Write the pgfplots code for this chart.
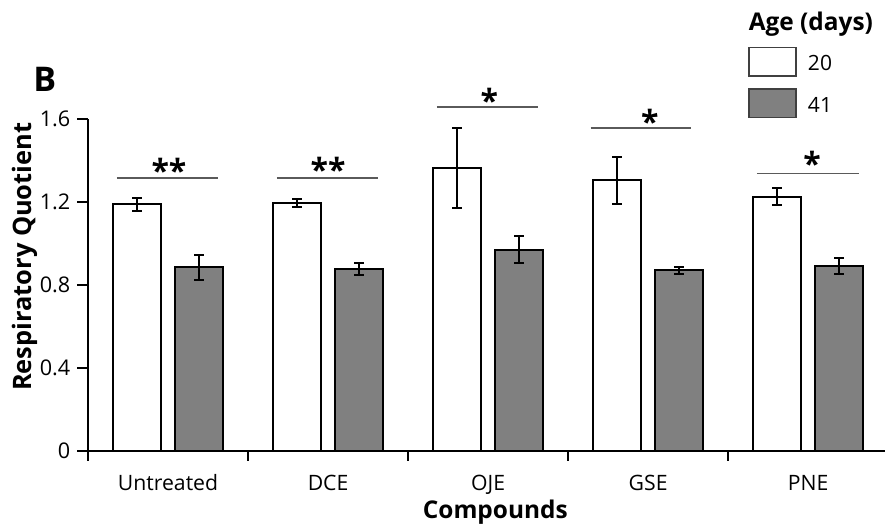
\documentclass[border=0pt]{standalone}
\usepackage{pgfplots}
\pgfplotsset{compat=1.18}
\usepackage{pgfplotstable}
\usepackage{fontspec}
\setmainfont{Open Sans}
\definecolor{barg}{RGB}{128,128,128}
\definecolor{brk}{RGB}{90,90,90}

\pgfplotstableread{
x y e
0 1.189 0.030
1 1.195 0.018
2 1.366 0.193
3 1.305 0.115
4 1.227 0.043
}\youngtab
\pgfplotstableread{
x y e
0 0.885 0.060
1 0.877 0.027
2 0.971 0.065
3 0.871 0.017
4 0.890 0.038
}\oldtab

\begin{document}
\begin{tikzpicture}
\useasboundingbox (-44pt,-36.65pt) rectangle (398.5pt,225.35pt);
\begin{axis}[
  at={(0pt,0pt)}, anchor=south west,
  scale only axis, width=398.5pt, height=165.7pt,
  xmin=-0.5, xmax=4.48, ymin=0, ymax=1.6,
  clip=false,
  axis x line=bottom, axis y line=left,
  axis line style={-, line width=1pt, black},
  ytick={0,0.4,0.8,1.2,1.6}, yticklabels={0,0.4,0.8,1.2,1.6},
  xtick={0,1,2,3,4}, xticklabels={Untreated,DCE,OJE,GSE,PNE},
  minor xtick={-0.5,0.5,1.5,2.5,3.5},
  major x tick style={draw=none},
  tick align=outside, major tick length=5.5pt, minor tick length=5pt,
  tick style={line width=1pt, black},
  yticklabel style={font=\fontsize{10.8}{12}\selectfont, anchor=east, inner sep=0pt, xshift=-3.2pt},
  xticklabel style={font=\fontsize{10.6}{12}\selectfont, anchor=base, inner sep=0pt, yshift=-14.5pt},
  ylabel={Respiratory Quotient},
  ylabel style={at={(axis description cs:-0.0706,0.585)}, anchor=base, inner sep=0pt, font=\bfseries\fontsize{12.7}{15}\selectfont},
  xlabel={Compounds},
  xlabel style={at={(axis description cs:0.511,-0.2031)}, anchor=base, inner sep=0pt, font=\bfseries\fontsize{12.2}{14}\selectfont},
  legend style={at={(axis description cs:0.8286,1.219)}, anchor=north west,
    draw=none, fill=none, inner sep=0pt, outer sep=0pt,
    row sep=5.7pt, column sep=5.7pt,
    nodes={inner sep=0pt, anchor=base},
    font=\fontsize{10.5}{12}\selectfont},
  legend cell align=left,
]
\addplot[ybar, bar width=24pt, bar shift=0pt, fill=white, draw=black, line width=1pt, forget plot,
  error bars/.cd, y dir=both, y explicit,
  error bar style={line width=1pt, black},
  error mark options={rotate=90, mark size=2.4pt, line width=1pt, black}]
  table[x expr=\thisrow{x}-0.1937, y=y, y error=e] {\youngtab};
\addplot[ybar, bar width=24pt, bar shift=0pt, fill=barg, draw=black, line width=1pt, forget plot,
  error bars/.cd, y dir=both, y explicit,
  error bar style={line width=1pt, black},
  error mark options={rotate=90, mark size=2.4pt, line width=1pt, black}]
  table[x expr=\thisrow{x}+0.1937, y=y, y error=e] {\oldtab};

\addlegendimage{legend image code/.code={\draw[fill=white, draw=black!75, line width=0.7pt] (0pt,-2.55pt) rectangle (23.4pt,11.75pt);}}
\addlegendentry{20}
\addlegendimage{legend image code/.code={\draw[fill=barg, draw=black!75, line width=0.7pt] (0pt,-2.55pt) rectangle (23.4pt,11.75pt);}}
\addlegendentry{41}

% significance brackets
\draw[brk, line width=0.75pt] (axis cs:-0.32,1.316) -- (axis cs:0.31,1.316);
\draw[brk, line width=0.75pt] (axis cs:0.68,1.316) -- (axis cs:1.31,1.316);
\draw[brk, line width=0.75pt] (axis cs:1.68,1.660) -- (axis cs:2.31,1.660);
\draw[brk, line width=0.75pt] (axis cs:2.64,1.557) -- (axis cs:3.27,1.557);
\draw[brk, line width=0.75pt] (axis cs:3.68,1.338) -- (axis cs:4.32,1.338);
\node[anchor=base, inner sep=0pt, yshift=-9pt, font=\bfseries\fontsize{16}{16}\selectfont] at (axis cs:0.006,1.38) {**};
\node[anchor=base, inner sep=0pt, yshift=-9pt, font=\bfseries\fontsize{16}{16}\selectfont] at (axis cs:1.0,1.386) {**};
\node[anchor=base, inner sep=0pt, yshift=-9pt, font=\bfseries\fontsize{16}{16}\selectfont] at (axis cs:2.008,1.722) {*};
\node[anchor=base, inner sep=0pt, yshift=-9pt, font=\bfseries\fontsize{16}{16}\selectfont] at (axis cs:3.01,1.618) {*};
\node[anchor=base, inner sep=0pt, yshift=-9pt, font=\bfseries\fontsize{16}{16}\selectfont] at (axis cs:4.025,1.417) {*};
\end{axis}
\node[anchor=base west, inner sep=0pt, font=\bfseries\fontsize{12.2}{14}\selectfont] at (330.2pt,210pt) {Age (days)};
\node[anchor=base west, inner sep=0pt, font=\bfseries\fontsize{17}{20}\selectfont] at (-27.5pt,179.4pt) {B};
\end{tikzpicture}
\end{document}
